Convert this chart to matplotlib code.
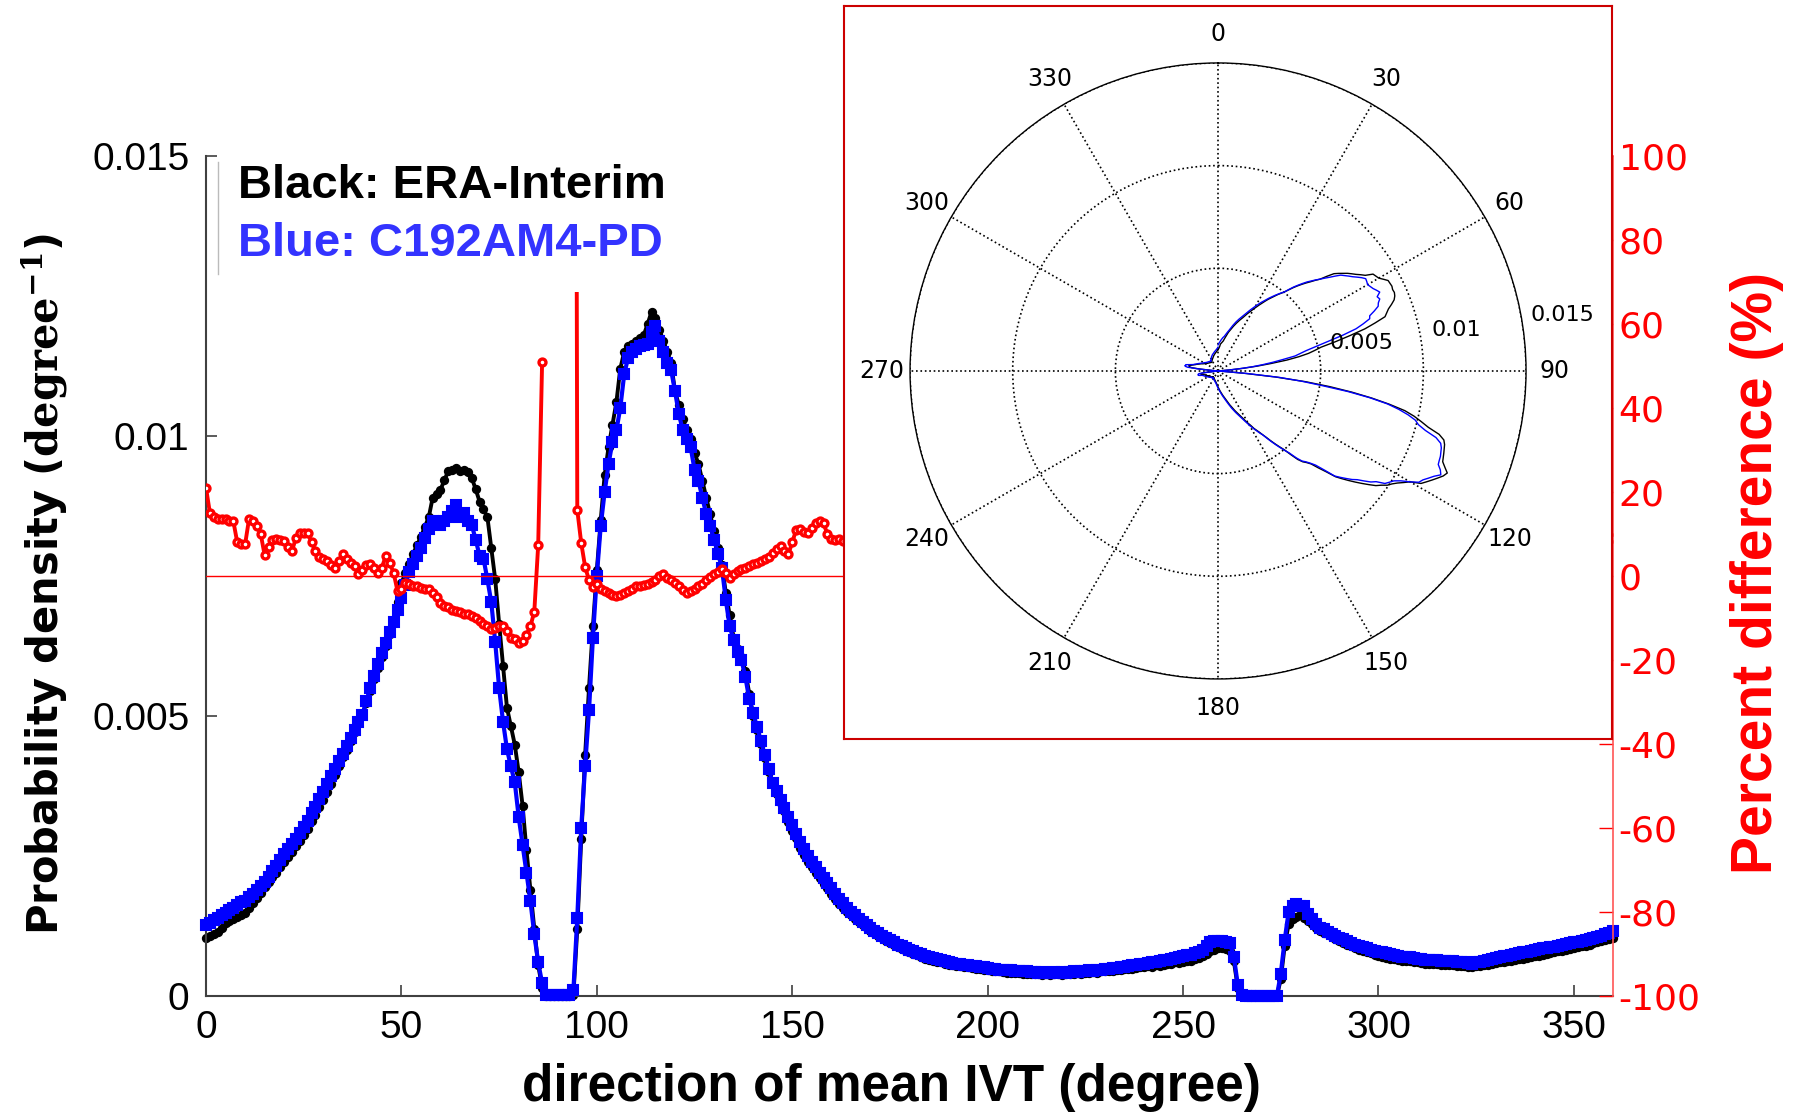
import numpy as np
import matplotlib
matplotlib.use('Agg')
import matplotlib.pyplot as plt
from matplotlib.patches import Rectangle
from matplotlib.lines import Line2D

plt.rcParams['axes.unicode_minus'] = False
plt.rcParams['mathtext.fontset'] = 'dejavuserif'

SANS = ['Liberation Sans', 'DejaVu Sans']

# probability density per degree, in units of 1e-5 (one value per degree, 0..360)
black_pd = [
    104, 107, 110, 115, 121, 131, 134, 138, 141, 145,
    149, 158, 166, 175, 184, 195, 203, 212, 220, 230,
    239, 249, 258, 268, 277, 287, 299, 312, 324, 337,
    350, 364, 379, 394, 410, 426, 440, 456, 472, 487,
    502, 523, 545, 566, 586, 606, 625, 647, 668, 703,
    737, 755, 772, 790, 805, 820, 838, 855, 890, 897,
    904, 921, 938, 940, 942, 938, 940, 935, 925, 905,
    883, 869, 855, 800, 744, 665, 590, 515, 482, 449,
    400, 340, 260, 190, 120, 55, 15, 0, 0, 0,
    0, 0, 0, 0, 1, 120, 280, 430, 550, 660,
    760, 850, 930, 980, 1020, 1060, 1120, 1150, 1160, 1165,
    1170, 1175, 1180, 1200, 1222, 1210, 1190, 1170, 1150, 1130,
    1080, 1055, 1030, 1010, 995, 970, 950, 920, 890, 860,
    830, 800, 770, 720, 680, 640, 620, 605, 580, 540,
    500, 475, 450, 425, 400, 380, 360, 345, 330, 310,
    295, 282, 265, 252, 240, 230, 220, 210, 200, 192,
    182, 174, 165, 158, 150, 144, 138, 132, 127, 121,
    116, 112, 108, 103, 99, 95, 91, 87, 84, 81,
    78, 75, 73, 70, 67, 65, 63, 61, 60, 58,
    56, 55, 54, 53, 52, 51, 50, 49, 48, 47,
    46, 45, 45, 44, 43, 42, 42, 41, 41, 40,
    40, 39, 39, 40, 38, 39, 38, 39, 40, 38,
    39, 40, 39, 41, 40, 42, 41, 43, 42, 44,
    44, 45, 45, 47, 46, 48, 49, 48, 50, 51,
    52, 53, 52, 55, 54, 56, 57, 58, 60, 59,
    61, 63, 62, 66, 68, 72, 75, 80, 82, 85,
    86, 84, 80, 62, 15, 0, 0, 0, 0, 0,
    0, 0, 0, 0, 0, 30, 90, 128, 138, 142,
    145, 140, 134, 128, 122, 116, 113, 110, 106, 102,
    98, 95, 92, 89, 86, 82, 80, 78, 76, 74,
    71, 70, 68, 67, 66, 64, 63, 62, 62, 61,
    60, 59, 58, 58, 57, 57, 56, 56, 55, 55,
    54, 53, 53, 52, 52, 53, 54, 55, 56, 57,
    59, 60, 61, 62, 63, 64, 66, 67, 68, 70,
    71, 72, 74, 75, 77, 78, 80, 81, 83, 84,
    86, 87, 89, 90, 92, 94, 96, 98, 100, 102,
    104,
]

blue_pd = [
    127, 131, 135, 140, 144, 149, 153, 158, 163, 167,
    170, 176, 183, 190, 197, 204, 213, 223, 233, 243,
    253, 262, 272, 281, 291, 301, 313, 326, 338, 351,
    364, 378, 392, 405, 419, 433, 447, 461, 475, 489,
    502, 526, 550, 571, 592, 613, 631, 650, 668, 689,
    710, 734, 758, 772, 786, 800, 817, 834, 848, 845,
    841, 848, 855, 866, 876, 855, 862, 848, 841, 815,
    786, 781, 744, 703, 632, 550, 490, 441, 410, 382,
    320, 270, 220, 170, 110, 60, 23, 2, 1, 1,
    1, 1, 1, 1, 10, 140, 300, 410, 510, 640,
    750, 840, 900, 950, 990, 1010, 1050, 1110, 1140, 1150,
    1155, 1160, 1162, 1165, 1185, 1197, 1170, 1150, 1130, 1118,
    1080, 1039, 1010, 995, 980, 940, 920, 890, 860, 840,
    815, 790, 765, 707, 660, 635, 615, 600, 570, 530,
    505, 480, 455, 430, 405, 380, 366, 350, 335, 320,
    305, 290, 275, 262, 250, 240, 230, 220, 210, 202,
    192, 183, 174, 166, 158, 150, 144, 138, 132, 127,
    122, 117, 113, 108, 104, 100, 96, 92, 89, 86,
    83, 80, 77, 75, 72, 70, 68, 66, 64, 62,
    60, 59, 58, 57, 56, 55, 54, 53, 52, 51,
    50, 49, 48, 47, 47, 46, 46, 45, 45, 44,
    44, 43, 43, 42, 43, 42, 42, 43, 42, 43,
    42, 43, 44, 43, 45, 44, 46, 45, 47, 47,
    48, 49, 50, 50, 52, 52, 54, 55, 56, 57,
    58, 59, 60, 61, 63, 64, 65, 67, 68, 70,
    71, 73, 74, 76, 79, 82, 90, 96, 99, 98,
    99, 97, 94, 70, 20, 1, 0, 0, 0, 0,
    0, 0, 0, 0, 0, 40, 100, 150, 160, 164,
    160, 160, 147, 137, 128, 122, 119, 114, 110, 107,
    104, 101, 98, 95, 92, 89, 87, 85, 83, 81,
    79, 78, 76, 75, 73, 72, 70, 69, 69, 68,
    67, 66, 65, 65, 64, 64, 63, 63, 62, 62,
    61, 60, 60, 59, 58, 60, 61, 62, 64, 66,
    68, 69, 71, 72, 74, 75, 77, 78, 79, 81,
    82, 84, 85, 86, 87, 88, 90, 91, 93, 94,
    96, 97, 99, 100, 102, 104, 106, 108, 110, 113,
    116,
]

# percent difference (blue vs black); nan where ERA-Interim is zero
nan = float('nan')
red_deg = list(range(0, 165)) + list(range(170, 361, 10))
red_pct = [
    21, 15, 14, 13.5, 13.5, 13.5, 13, 13, 8, 7.5,
    7.5, 13.5, 13, 12, 10, 5, 7, 8.5, 8.7, 8.5,
    8.3, 7, 6, 9, 10.3, 10.3, 10.3, 8, 6, 4.5,
    4, 3.5, 2.5, 2, 3.5, 5.2, 4, 3, 2.4, 0.4,
    1.5, 2.5, 2.8, 2, 0.8, 2, 4.8, 3, 0.8, -3.6,
    -3, -1.6, -2, -2.4, -2.4, -2.8, -3, -3.2, -4, -5,
    -6.5, -7.2, -7.5, -8, -8.3, -8.5, -9, -9.1, -9.5, -10,
    -10.7, -11.5, -12, -12.7, -12.5, -12, -11.9, -13, -14.7, -15,
    -15.9, -15.5, -14, -12, -8.5, 7.4, 51, nan, nan, nan,
    nan, nan, nan, nan, 400, 15.7, 7.9, 2.2, -1, -2.6,
    -2, -3, -3.5, -4, -4.5, -4.8, -4.5, -4, -3.5, -3,
    -2.5, -2.4, -2.2, -2, -1.5, -1, 0, 0.4, -0.5, -1,
    -1.6, -2.5, -3.3, -4, -3.5, -3, -2.5, -2, -1, -0.2,
    0.4, 1, 1.6, 0.8, -0.4, 0.5, 1.2, 1.6, 2, 2.4,
    2.8, 3, 3.5, 4, 4.5, 5.5, 6.5, 7.1, 6, 5.2,
    8, 11, 11.1, 10.5, 10.3, 11.5, 12.5, 13.1, 12.5, 10,
    8.7, 8.5, 8.8, 8.3, 8.3,
    9, 10, 9, 8, 11, 12, 10, 9, 8, 10,
    11, 12, 10, 9, 13, 12, 11, 10, 9, 9,
]

x_ticks = [0, 50, 100, 150, 200, 250, 300, 350]
y_ticks = [0, 0.005, 0.01, 0.015]
y_tick_labels = ['0', '0.005', '0.01', '0.015']
pct_ticks = list(range(-100, 101, 20))
polar_angles = list(range(0, 360, 30))
polar_rings = [0.005, 0.01, 0.015]

black = np.array(black_pd) * 1e-5
blue = np.array(blue_pd) * 1e-5
deg = np.arange(len(black))

fig = plt.figure(figsize=(17.96, 11.18), dpi=100)

# main axes
ax = fig.add_axes([0.1147, 0.1091, 0.7834, 0.7514])
ax.set_zorder(1)
ax.plot(deg, black, '-o', color='black', lw=2.8, ms=5.5, mew=1.2, clip_on=False, zorder=2)
ax.plot(deg, blue, '-s', color='#0000ff', lw=3, ms=7.5, mew=1.5, clip_on=False, zorder=3)
ax.set_xlim(0, 360)
ax.set_ylim(0, 0.015)
ax.set_xticks(x_ticks)
ax.set_yticks(y_ticks)
ax.set_yticklabels(y_tick_labels)
for s in ['top', 'right']:
    ax.spines[s].set_visible(False)
for s in ['left', 'bottom']:
    ax.spines[s].set_color('#404040')
    ax.spines[s].set_linewidth(1.5)
ax.tick_params(direction='in', length=8, width=1.2, color='#404040',
               labelsize=28, labelfontfamily=SANS)
ax.tick_params(axis='y', pad=12)
ax.tick_params(axis='x', pad=10)
ax.set_xlabel('direction of mean IVT (degree)', fontsize=37, fontweight='bold',
              family=SANS)
ax.xaxis.set_label_coords(0.487, -0.080)
ax.set_ylabel(r'Probability density ($\mathbf{degree}^{\mathbf{-1}}$)',
              fontsize=30, fontweight='bold', family=['DejaVu Sans'])
ax.yaxis.set_label_coords(-0.097, 0.49)

# percent difference on right axis
ax2 = ax.twinx()
ax2.set_zorder(2)
ax2.patch.set_visible(False)
ax2.axhline(0, color='red', lw=1)
ax2.plot(red_deg, red_pct, '-o', color='red', lw=2.8, ms=5, mfc='white', mew=2.4)
ax2.set_ylim(-100, 100)
ax2.set_yticks(pct_ticks)
for s in ['top', 'left', 'bottom']:
    ax2.spines[s].set_visible(False)
ax2.spines['right'].set_color('#ff5555')
ax2.spines['right'].set_linewidth(1.2)
ax2.tick_params(axis='y', direction='in', length=10, width=1, colors='red',
                labelsize=26, pad=4, labelfontfamily=['DejaVu Sans'])
ax2.set_ylabel('Percent difference (%)', fontsize=41, fontweight='bold', color='red',
               family=SANS, rotation=90)
ax2.yaxis.set_label_coords(1.083, 0.504)

# legend box in upper left
fig.add_artist(Rectangle((0.1214, 0.7388), 0.28, 0.124, transform=fig.transFigure,
                         facecolor='white', edgecolor='none', zorder=3))
fig.add_artist(Line2D([0.1214, 0.1214], [0.755, 0.855], transform=fig.transFigure,
                      color='#bbbbbb', lw=1, zorder=4))
fig.text(0.1325, 0.834, 'Black: ERA-Interim', fontsize=34, fontweight='bold',
         color='black', family=SANS, va='center', zorder=4)
fig.text(0.1325, 0.782, 'Blue: C192AM4-PD', fontsize=34, fontweight='bold',
         color='#3333ff', family=SANS, va='center', zorder=4)

# inset box
ax_in = fig.add_axes([0.470, 0.339, 0.4276, 0.6556])
ax_in.set_zorder(5)
ax_in.set_xticks([])
ax_in.set_yticks([])
for s in ax_in.spines.values():
    s.set_color('#cc0000')
    s.set_linewidth(1.5)

# polar inset
axp = fig.add_axes([0.5067, 0.3927, 0.343, 0.551], projection='polar')
axp.set_zorder(6)
axp.patch.set_alpha(0)
axp.set_theta_zero_location('N')
axp.set_theta_direction(-1)
axp.plot(np.deg2rad(deg), black, color='black', lw=1)
axp.plot(np.deg2rad(deg), blue, color='#0000ff', lw=1)
axp.set_ylim(0, 0.015)
axp.set_xticks(np.deg2rad(polar_angles))
axp.set_yticks(polar_rings)
axp.set_xticklabels([])
axp.set_yticklabels([])
axp.grid(True, linestyle=':', color='black', lw=1.2)
axp.spines['polar'].set_color('black')
axp.spines['polar'].set_linewidth(1)
for a in polar_angles:
    axp.text(np.deg2rad(a), 0.0164, str(a), ha='center', va='center', fontsize=17,
             family=['DejaVu Sans'], clip_on=False)
ring_pos = [(79.0, 0.0071), (80.2, 0.0118), (80.8, 0.0170)]
for r, (a, rr) in zip(polar_rings, ring_pos):
    axp.text(np.deg2rad(a), rr, y_tick_labels[y_ticks.index(r)], ha='center',
             va='center', fontsize=16, family=['DejaVu Sans'], clip_on=False)

fig.savefig('out.png', dpi=100)
